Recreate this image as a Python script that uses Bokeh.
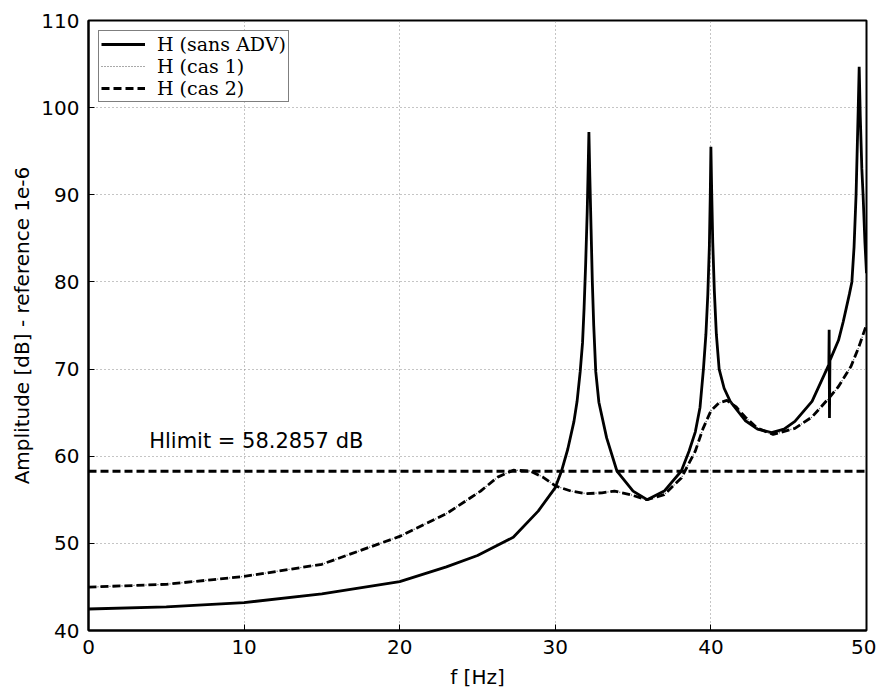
from bokeh.plotting import figure
from bokeh.models import Range1d, Span, Label, SingleIntervalTicker
from bokeh.embed import file_html
from bokeh.resources import INLINE

# ---- data ----
freq_sans = [0, 5, 10, 15, 20, 23, 25, 27.3, 28.9, 30, 30.4, 30.8, 31.2, 31.4, 31.6, 31.75,
             31.85, 31.95, 32.05, 32.1, 32.16, 32.22, 32.3, 32.38, 32.47, 32.6, 32.8, 33.3,
             33.96, 35.0, 35.9, 37.0, 38.1, 38.6, 39.0, 39.3, 39.52, 39.68, 39.8, 39.9,
             39.96, 40.0, 40.05, 40.12, 40.22, 40.35, 40.53, 40.85, 41.24, 42.2,
             43.0, 43.9, 44.7, 45.4, 46.5, 47.45, 47.58, 47.6, 47.62, 47.65, 48.2, 48.5,
             48.7, 48.9, 49.06, 49.2, 49.33, 49.4, 49.47, 49.53, 49.6, 49.7, 49.78, 49.9, 50]
amp_sans = [42.47, 42.7, 43.2, 44.2, 45.6, 47.3, 48.6, 50.7, 53.7, 56.4, 58.3, 60.8, 64.0,
            66.3, 69.7, 73.0, 77.0, 82.0, 88.0, 92.0, 97.2, 92.0, 86.0, 80.0, 75.0, 69.7,
            66.2, 62.1, 58.3, 56.0, 55.0, 56.0, 58.3, 60.6, 62.8, 65.6, 70.0, 74.0, 78.5,
            84.0, 90.0, 95.5, 90.5, 84.5, 79.0, 74.0, 70.0, 67.8, 66.3, 64.1,
            63.1, 62.7, 63.1, 64.0, 66.3, 70.0, 70.5, 74.5, 64.4, 71.0, 73.3, 75.4,
            77.0, 78.6, 80.0, 84.0, 90.0, 95.0, 100.0, 104.7, 99.0, 93.0, 90.0, 84.5, 81.0]

freq_cas = [0, 5, 10, 15, 20, 23, 25.2, 26.3, 27.3, 28.4, 29.2, 30, 31, 32, 33, 33.8, 34.8,
            35.9, 37.0, 38.1, 39.0, 39.5, 40.0, 40.5, 41.03, 41.6, 42.2, 43.0, 44.0, 45.4,
            46.5, 47.6, 48.2, 49.0, 49.5, 50]
amp_cas2 = [44.98, 45.3, 46.2, 47.6, 50.8, 53.4, 56.0, 57.6, 58.4, 58.3, 57.6, 56.6, 56.0,
            55.7, 55.8, 56.0, 55.6, 55.0, 55.6, 57.5, 60.6, 63.2, 65.2, 66.1, 66.4, 65.7,
            64.5, 63.2, 62.5, 63.2, 64.5, 66.7, 68.0, 70.3, 72.5, 75.1]
amp_cas1 = [44.98, 45.3, 46.2, 47.6, 50.8, 53.4, 56.0, 57.6, 58.4, 58.3, 57.6, 56.6, 56.0,
            55.7, 55.8, 56.0, 55.6, 55.0, 55.6, 57.5, 60.6, 63.2, 65.2, 66.1, 66.4, 65.7,
            64.5, 63.2, 62.5, 63.2, 64.5, 66.7, 68.0, 70.3, 72.5, 75.1]

HLIMIT = 58.2857
label_sans = "H (sans ADV)"
label_cas1 = "H (cas 1)"
label_cas2 = "H (cas 2)"
hlimit_text = "Hlimit = 58.2857 dB"
x_title = "f [Hz]"
y_title = "Amplitude [dB] - reference 1e-6"

SANS = "DejaVu Sans"
SERIF = "DejaVu Serif"

p = figure(output_backend="svg", toolbar_location=None,
           frame_width=778, frame_height=610,
           x_range=Range1d(0, 50), y_range=Range1d(40, 110),
           min_border_left=88, min_border_top=20, min_border_right=10, min_border_bottom=4)
p.background_fill_color = "white"
p.border_fill_color = "white"
p.outline_line_color = "black"
p.outline_line_width = 2
p.outline_line_alpha = 1

for ax in (p.xaxis, p.yaxis):
    ax.axis_line_color = "black"
    ax.axis_line_width = 2
    ax.major_tick_in = 6
    ax.major_tick_out = 0
    ax.minor_tick_line_color = None
    ax.major_tick_line_color = "black"
    ax.major_label_text_font = SANS
    ax.major_label_text_font_size = "20px"
    ax.major_label_text_color = "black"
    ax.axis_label_text_font = SANS
    ax.axis_label_text_font_size = "20px"
    ax.axis_label_text_font_style = "normal"
    ax.axis_label_text_color = "black"

p.xaxis.ticker = SingleIntervalTicker(interval=10)
p.yaxis.ticker = SingleIntervalTicker(interval=10)
p.xaxis.axis_label = x_title
p.yaxis.axis_label = y_title
p.xaxis.major_label_standoff = 5
p.yaxis.major_label_standoff = 5
p.xaxis.axis_label_standoff = 8
p.yaxis.axis_label_standoff = 4

for g in (p.xgrid, p.ygrid):
    g.grid_line_color = "#8a8a8a"
    g.grid_line_dash = "1 3"
    g.grid_line_width = 1

# Hlimit line
p.add_layout(Span(location=HLIMIT, dimension="width", line_color="black",
                  line_width=3, line_dash="8 4"))
p.add_layout(Label(x=3.9, y=61.8, text=hlimit_text, text_font=SANS,
                   text_font_size="21px", text_color="black", text_baseline="alphabetic"))

r1 = p.line(freq_sans, amp_sans, line_color="black", line_width=2.8, legend_label=label_sans)
r2 = p.line(freq_cas, amp_cas1, line_color="#555555", line_width=1.2, line_dash="1 2",
            legend_label=label_cas1)
r3 = p.line(freq_cas, amp_cas2, line_color="black", line_width=2.8, line_dash="8 4",
            legend_label=label_cas2)

lg = p.legend[0]
lg.location = "top_left"
lg.margin = 10
lg.padding = 2
lg.spacing = 0
lg.label_text_font = SERIF
lg.label_text_font_size = "19px"
lg.label_text_color = "black"
lg.label_text_line_height = 1.0
lg.label_height = 18
lg.glyph_height = 18
lg.glyph_width = 44
lg.label_standoff = 12
lg.border_line_color = "black"
lg.border_line_width = 1.5
lg.background_fill_alpha = 1

open("out.html", "w").write(file_html(p, INLINE))
